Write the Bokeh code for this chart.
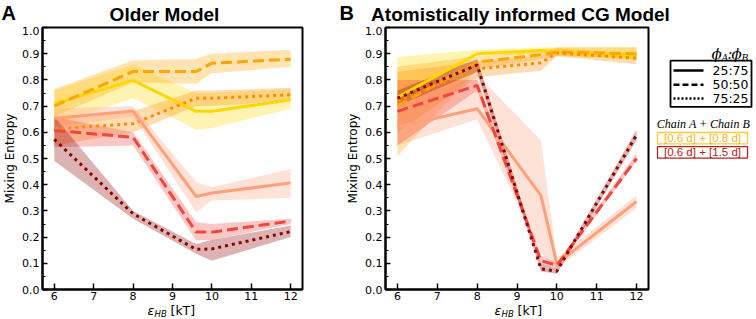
from bokeh.plotting import figure
from bokeh.layouts import row, column
from bokeh.models import Range1d, FixedTicker, NumeralTickFormatter
from bokeh.embed import file_html
from bokeh.resources import INLINE
from bokeh.core.properties import value

# ---------------- data ----------------
eps = [6, 8, 9.6, 10, 12]
x_ticks = [6, 7, 8, 9, 10, 11, 12]
y_ticks = [0.0, 0.1, 0.2, 0.3, 0.4, 0.5, 0.6, 0.7, 0.8, 0.9, 1.0]
y_minor = [0.05, 0.15, 0.25, 0.35, 0.45, 0.55, 0.65, 0.75, 0.85, 0.95]

# Panel A: Older Model
a_y_25_08 = [0.71, 0.798, 0.68, 0.68, 0.724]
a_lo_25_08 = [0.63, 0.73, 0.61, 0.615, 0.69]
a_hi_25_08 = [0.76, 0.86, 0.75, 0.75, 0.765]
a_y_50_08 = [0.70, 0.832, 0.832, 0.864, 0.879]
a_lo_50_08 = [0.66, 0.79, 0.785, 0.825, 0.85]
a_hi_50_08 = [0.765, 0.875, 0.88, 0.90, 0.915]
a_y_75_08 = [0.613, 0.633, 0.73, 0.73, 0.743]
a_lo_75_08 = [0.55, 0.60, 0.70, 0.70, 0.72]
a_hi_75_08 = [0.66, 0.68, 0.76, 0.76, 0.77]
a_y_25_15 = [0.654, 0.681, 0.355, 0.368, 0.407]
a_lo_25_15 = [0.62, 0.66, 0.295, 0.34, 0.35]
a_hi_25_15 = [0.69, 0.70, 0.41, 0.39, 0.46]
a_y_50_15 = [0.607, 0.581, 0.219, 0.219, 0.261]
a_lo_50_15 = [0.543, 0.55, 0.187, 0.19, 0.25]
a_hi_50_15 = [0.658, 0.60, 0.257, 0.25, 0.27]
a_y_75_15 = [0.573, 0.289, 0.153, 0.155, 0.221]
a_lo_75_15 = [0.49, 0.27, 0.136, 0.11, 0.20]
a_hi_75_15 = [0.66, 0.30, 0.174, 0.19, 0.244]

# Panel B: Atomistically informed CG Model
b_y_25_08 = [0.734, 0.90, 0.912, 0.908, 0.887]
b_lo_25_08 = [0.70, 0.89, 0.90, 0.895, 0.875]
b_hi_25_08 = [0.887, 0.915, 0.925, 0.925, 0.925]
b_y_50_08 = [0.702, 0.868, 0.896, 0.906, 0.90]
b_lo_50_08 = [0.51, 0.84, 0.88, 0.89, 0.885]
b_hi_50_08 = [0.85, 0.89, 0.91, 0.925, 0.925]
b_y_75_08 = [0.72, 0.842, 0.865, 0.903, 0.883]
b_lo_75_08 = [0.60, 0.81, 0.835, 0.89, 0.86]
b_hi_75_08 = [0.83, 0.87, 0.89, 0.92, 0.90]
b_y_25_15 = [0.62, 0.69, 0.359, 0.098, 0.336]
b_lo_25_15 = [0.55, 0.65, 0.14, 0.08, 0.31]
b_hi_25_15 = [0.70, 0.82, 0.57, 0.12, 0.36]
b_y_50_15 = [0.68, 0.779, 0.11, 0.092, 0.50]
b_lo_50_15 = [0.55, 0.76, 0.10, 0.08, 0.49]
b_hi_50_15 = [0.80, 0.80, 0.13, 0.10, 0.52]
b_y_75_15 = [0.73, 0.857, 0.079, 0.07, 0.59]
b_lo_75_15 = [0.70, 0.83, 0.07, 0.06, 0.57]
b_hi_75_15 = [0.76, 0.88, 0.10, 0.08, 0.61]

panel_titles = ["Older Model", "Atomistically informed CG Model"]
panel_letters = ["A", "B"]
y_label = "Mixing Entropy"
ratio_labels = ["25:75", "50:50", "75:25"]
chain_header = "Chain A + Chain B"
chain_labels = ["[0.6 d] + [0.8 d]", "[0.6 d] + [1.5 d]"]

# ---------------- styles ----------------
COL = {
    "25_08": "#FFD700", "50_08": "#FFA500", "75_08": "#FF8C00",
    "25_15": "#FFA07A", "50_15": "#F2453D", "75_15": "#8B0000",
}
DASH = {"25": "solid", "50": "11 5", "75": "3 4"}
FONT = "DejaVu Sans"
W = 756
HEAD_H = 26
FOOT_H = 16


def bare(width, height, xr, yr):
    f = figure(width=width, height=height, output_backend="svg", toolbar_location=None,
               title=None, x_axis_location=None, y_axis_location=None,
               x_range=Range1d(*xr), y_range=Range1d(*yr),
               min_border_left=0, min_border_right=0, min_border_top=0, min_border_bottom=0)
    f.grid.visible = False
    f.outline_line_color = None
    return f


def make_panel(series, width, bl, br):
    p = figure(width=width, height=319 - HEAD_H - FOOT_H, output_backend="svg", toolbar_location=None,
               title=None, x_range=Range1d(5.7, 12.3), y_range=Range1d(0, 1.0),
               min_border_left=bl, min_border_right=br,
               min_border_top=1, min_border_bottom=14)
    p.grid.visible = False
    p.outline_line_color = "black"
    p.outline_line_width = 2
    for key, (y, lo, hi) in series.items():
        p.varea(x=eps, y1=lo, y2=hi, fill_color=COL[key], fill_alpha=0.3)
    for key, (y, lo, hi) in series.items():
        p.line(eps, y, line_color=COL[key], line_width=3, line_dash=DASH[key[:2]])
    p.xaxis.ticker = FixedTicker(ticks=x_ticks)
    p.yaxis.ticker = FixedTicker(ticks=y_ticks, minor_ticks=y_minor)
    p.yaxis.formatter = NumeralTickFormatter(format="0.0")
    for ax in (p.xaxis[0], p.yaxis[0]):
        ax.axis_line_width = 2
        ax.major_tick_out = 0
        ax.minor_tick_out = 0
        ax.major_tick_line_width = 1.5
        ax.major_label_text_font = FONT
        ax.major_label_text_font_size = "11px"
        ax.major_label_text_color = "black"
    p.xaxis.major_label_standoff = 2
    p.yaxis.major_label_standoff = 3
    p.xaxis.major_tick_in = 6
    p.xaxis.minor_tick_in = 0
    p.yaxis.major_tick_in = 5
    p.yaxis.minor_tick_in = 3
    p.yaxis.axis_label = y_label
    p.yaxis.axis_label_text_font = FONT
    p.yaxis.axis_label_text_font_style = "normal"
    p.yaxis.axis_label_text_font_size = "12px"
    p.yaxis.axis_label_standoff = 2
    p.yaxis.axis_label_text_color = "black"
    return p


series_a = {
    "25_08": (a_y_25_08, a_lo_25_08, a_hi_25_08),
    "50_08": (a_y_50_08, a_lo_50_08, a_hi_50_08),
    "75_08": (a_y_75_08, a_lo_75_08, a_hi_75_08),
    "25_15": (a_y_25_15, a_lo_25_15, a_hi_25_15),
    "50_15": (a_y_50_15, a_lo_50_15, a_hi_50_15),
    "75_15": (a_y_75_15, a_lo_75_15, a_hi_75_15),
}
series_b = {
    "25_08": (b_y_25_08, b_lo_25_08, b_hi_25_08),
    "50_08": (b_y_50_08, b_lo_50_08, b_hi_50_08),
    "75_08": (b_y_75_08, b_lo_75_08, b_hi_75_08),
    "25_15": (b_y_25_15, b_lo_25_15, b_hi_25_15),
    "50_15": (b_y_50_15, b_lo_50_15, b_hi_50_15),
    "75_15": (b_y_75_15, b_lo_75_15, b_hi_75_15),
}

pA = make_panel(series_a, 340, 38, 38)
pB = make_panel(series_b, 310, 45, 2)

# ---------------- header (panel letters + titles) ----------------
head = bare(W, HEAD_H, (0, W), (HEAD_H, 0))
for xx, lab in zip([1, 339], panel_letters):
    head.text([xx], [12.5], text=[lab], text_font=value("Liberation Sans"), text_font_style="bold",
              text_font_size="20px", text_baseline="middle", text_color="black")
for xx, lab in zip([164, 520], panel_titles):
    head.text([xx], [14], text=[lab], text_font=value("Liberation Sans"), text_font_style="bold",
              text_font_size="19px", text_align="center", text_baseline="middle",
              text_color="black")

# ---------------- footer (x axis labels) ----------------
foot = bare(W, FOOT_H, (0, W), (319, 319 - FOOT_H))
for x0 in [147, 494]:
    foot.text([x0], [310], text=["ε"], text_font=value(FONT), text_font_style="italic",
              text_font_size="12.5px", text_baseline="middle", text_color="black")
    foot.text([x0 + 7], [313], text=["HB"], text_font=value(FONT), text_font_style="italic",
              text_font_size="8.5px", text_baseline="middle", text_color="black")
    foot.text([x0 + 23], [310], text=["[kT]"], text_font=value(FONT),
              text_font_size="12.5px", text_baseline="middle", text_color="black")

# ---------------- legend panel ----------------
pL = bare(106, 319 - HEAD_H - FOOT_H, (650, W), (319 - FOOT_H, HEAD_H))
pL.quad(left=[670], right=[751], top=[61], bottom=[110], fill_color="white",
        line_color="black", line_width=1.8)
ly = [71.5, 86.5, 101]
for i, lab in enumerate(ratio_labels):
    pL.line([673, 703], [ly[i], ly[i]], line_color="black", line_width=2.5,
            line_dash=["solid", "6 3", "2 2"][i])
    pL.text([712], [ly[i]], text=[lab], text_font=value(FONT), text_font_size="12.5px",
            text_baseline="middle", text_color="black")

serif = "DejaVu Serif"
for xx, tt, sz, yy in [(711, "ϕ", "15px", 53.5), (721, "A", "9.5px", 57.5), (727, ":", "14px", 53.5),
                       (731, "ϕ", "15px", 53.5), (741, "B", "9.5px", 57.5)]:
    pL.text([xx], [yy], text=[tt], text_font=value(serif), text_font_style="italic",
            text_font_size=sz, text_baseline="middle", text_color="black")

pL.text([703], [128], text=[chain_header], text_font=value("Liberation Serif"),
        text_font_style="italic", text_font_size="12px", text_align="center",
        text_baseline="middle", text_color="black")
box_cols = ["#FFCC33", "#B22222"]
box_txt_cols = ["#F5B52A", "#B22222"]
box_y = [(137, 149), (152, 164)]
for i, lab in enumerate(chain_labels):
    pL.quad(left=[657], right=[747], top=[box_y[i][0]], bottom=[box_y[i][1]],
            fill_color="white", line_color=box_cols[i], line_width=1.3)
    pL.text([702], [(box_y[i][0] + box_y[i][1]) / 2], text=[lab], text_font=value("Liberation Sans"),
            text_font_size="11.5px", text_align="center", text_baseline="middle",
            text_color=box_txt_cols[i])

layout = column(head, row(pA, pB, pL), foot)
open("out.html", "w").write(file_html(layout, INLINE))
